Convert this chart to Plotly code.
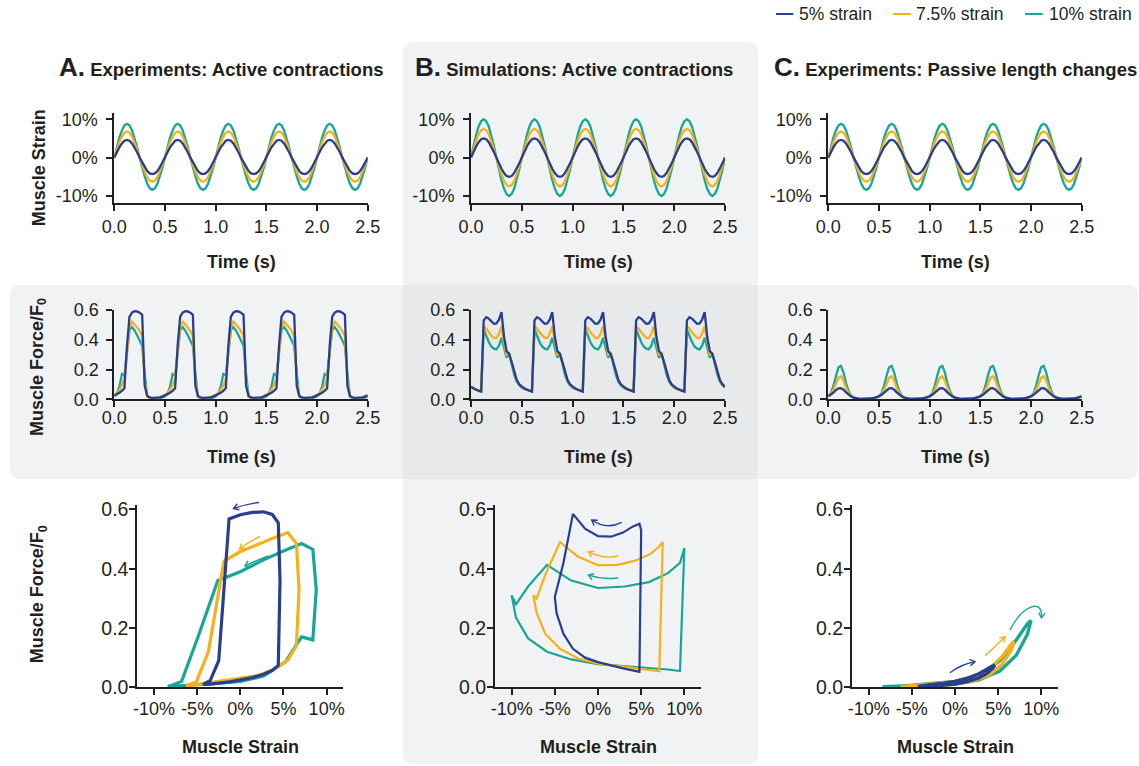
import math
import plotly.graph_objects as go

W, H = 1139, 766
INK = "#231f20"
BLUE, ORANGE, TEAL = "#283e91", "#f6b01a", "#17a697"
FONT = "Liberation Sans, Arial, Helvetica, sans-serif"

# ---------------------------------------------------------------- data ---
# Every record is a 2 Hz cycle sampled every 25 ms; five cycles are shown.
CYCLE_PERIOD = 0.5
N_CYCLES = 5
CYCLE_TAU = [0.000, 0.025, 0.050, 0.075, 0.100, 0.125, 0.150, 0.175, 0.200, 0.225,
             0.250, 0.275, 0.300, 0.325, 0.350, 0.375, 0.400, 0.425, 0.450, 0.475]

series_labels = ["5% strain", "7.5% strain", "10% strain"]
series_colors = [BLUE, ORANGE, TEAL]

# muscle strain (%) - experiments
exp_strain_5 = [0.0, 1.4, 2.7, 3.7, 4.4, 4.6, 4.4, 3.7, 2.7, 1.4,
                0.0, -1.3, -2.5, -3.5, -4.1, -4.3, -4.1, -3.5, -2.5, -1.3]
exp_strain_75 = [0.0, 2.1, 4.0, 5.5, 6.5, 6.8, 6.5, 5.5, 4.0, 2.1,
                 0.0, -1.9, -3.7, -5.1, -6.0, -6.3, -6.0, -5.1, -3.7, -1.9]
exp_strain_10 = [0.0, 2.7, 5.2, 7.1, 8.4, 8.8, 8.4, 7.1, 5.2, 2.7,
                 0.0, -2.6, -4.9, -6.8, -8.0, -8.4, -8.0, -6.8, -4.9, -2.6]

# muscle strain (%) - simulations
sim_strain_5 = [0.0, 1.5, 2.9, 4.0, 4.8, 5.0, 4.8, 4.0, 2.9, 1.5,
                0.0, -1.5, -2.9, -4.0, -4.8, -5.0, -4.8, -4.0, -2.9, -1.5]
sim_strain_75 = [0.0, 2.3, 4.4, 6.1, 7.1, 7.5, 7.1, 6.1, 4.4, 2.3,
                 0.0, -2.3, -4.4, -6.1, -7.1, -7.5, -7.1, -6.1, -4.4, -2.3]
sim_strain_10 = [0.0, 3.1, 5.9, 8.1, 9.5, 10.0, 9.5, 8.1, 5.9, 3.1,
                 0.0, -3.1, -5.9, -8.1, -9.5, -10.0, -9.5, -8.1, -5.9, -3.1]

# muscle force / F0 - experiments, active contractions
exp_active_force_5 = [0.025, 0.033, 0.044, 0.057, 0.074, 0.360, 0.555, 0.583, 0.592, 0.590,
                      0.582, 0.568, 0.090, 0.022, 0.013, 0.010, 0.010, 0.011, 0.013, 0.018]
exp_active_force_75 = [0.030, 0.040, 0.062, 0.092, 0.140, 0.330, 0.485, 0.522, 0.505, 0.483,
                       0.458, 0.425, 0.120, 0.018, 0.007, 0.004, 0.005, 0.009, 0.015, 0.022]
exp_active_force_10 = [0.020, 0.038, 0.085, 0.170, 0.160, 0.330, 0.465, 0.485, 0.462, 0.430,
                       0.390, 0.360, 0.170, 0.020, 0.006, 0.003, 0.003, 0.005, 0.008, 0.013]

# muscle force / F0 - simulations, active contractions
sim_active_force_5 = [0.085, 0.073, 0.064, 0.057, 0.052, 0.530, 0.552, 0.542, 0.522, 0.508,
                      0.510, 0.535, 0.585, 0.420, 0.325, 0.305, 0.250, 0.180, 0.130, 0.100]
sim_active_force_75 = [0.080, 0.072, 0.065, 0.059, 0.054, 0.490, 0.475, 0.450, 0.428, 0.413,
                       0.412, 0.440, 0.490, 0.380, 0.300, 0.310, 0.250, 0.180, 0.130, 0.097]
sim_active_force_10 = [0.078, 0.072, 0.066, 0.060, 0.055, 0.470, 0.420, 0.385, 0.355, 0.340,
                       0.335, 0.360, 0.413, 0.340, 0.280, 0.310, 0.235, 0.165, 0.120, 0.094]

# muscle force / F0 - experiments, passive length changes
exp_passive_force_5 = [0.020, 0.030, 0.045, 0.062, 0.073, 0.075, 0.065, 0.047, 0.031, 0.019,
                       0.011, 0.006, 0.004, 0.003, 0.003, 0.003, 0.004, 0.006, 0.009, 0.014]
exp_passive_force_75 = [0.020, 0.035, 0.063, 0.105, 0.145, 0.155, 0.125, 0.078, 0.042, 0.021,
                        0.011, 0.005, 0.003, 0.002, 0.002, 0.002, 0.003, 0.005, 0.008, 0.013]
exp_passive_force_10 = [0.020, 0.040, 0.090, 0.160, 0.215, 0.225, 0.180, 0.108, 0.055, 0.024,
                        0.011, 0.005, 0.002, 0.002, 0.002, 0.002, 0.002, 0.004, 0.007, 0.012]

# tick values and labels
time_ticks = [0.0, 0.5, 1.0, 1.5, 2.0, 2.5]
time_tick_labels = ["0.0", "0.5", "1.0", "1.5", "2.0", "2.5"]
strain_ticks_row = [-10, 0, 10]
strain_tick_labels_row = ["-10%", "0%", "10%"]
strain_ticks_loop = [-10, -5, 0, 5, 10]
strain_tick_labels_loop = ["-10%", "-5%", "0%", "5%", "10%"]
force_ticks = [0.0, 0.2, 0.4, 0.6]
force_tick_labels = ["0.0", "0.2", "0.4", "0.6"]

panel_titles = [("A.", "Experiments: Active contractions"),
                ("B.", "Simulations: Active contractions"),
                ("C.", "Experiments: Passive length changes")]


def repeat_cycles(cycle):
    """Five recorded cycles followed by the closing sample at t = 2.5 s."""
    return cycle * N_CYCLES + cycle[:1]


time_s = [round(c * CYCLE_PERIOD + tau, 3) for c in range(N_CYCLES) for tau in CYCLE_TAU]
time_s.append(N_CYCLES * CYCLE_PERIOD)

panels = [
    ([exp_strain_5, exp_strain_75, exp_strain_10],
     [exp_active_force_5, exp_active_force_75, exp_active_force_10]),
    ([sim_strain_5, sim_strain_75, sim_strain_10],
     [sim_active_force_5, sim_active_force_75, sim_active_force_10]),
    ([exp_strain_5, exp_strain_75, exp_strain_10],
     [exp_passive_force_5, exp_passive_force_75, exp_passive_force_10]),
]

# ------------------------------------------------------------- layout ---
def fx(x):
    return x / W


def fy(y):
    return 1 - y / H


col_x_time = [(114.3, 367.7), (471.0, 725.0), (828.3, 1081.7)]
col_x_loop = [(137.3, 343.3), (495.0, 701.0), (852.0, 1058.0)]
row_y = [(112.7, 203.3), (310.0, 399.3), (505.0, 687.3)]
loop_width = [3.2, 2.2, 3.4]


def tick_font(size):
    return dict(family=FONT, size=size, color=INK)


fig = go.Figure()
layout = {}

axis_common = dict(
    showline=True, linecolor=INK, linewidth=2, ticks="outside", ticklen=6,
    tickwidth=2, tickcolor=INK, showgrid=False, zeroline=False, mirror=False,
    tickfont=tick_font(18), tickmode="array", fixedrange=True, automargin=False,
)

for col, (strains, forces) in enumerate(panels):
    for row in range(3):
        k = row * 3 + col + 1
        xs = "" if k == 1 else str(k)
        xd = col_x_loop[col] if row == 2 else col_x_time[col]
        yd = row_y[row]
        xa = dict(axis_common, domain=[fx(xd[0]), fx(xd[1])], anchor="y" + xs)
        ya = dict(axis_common, domain=[fy(yd[1]), fy(yd[0])], anchor="x" + xs)
        if row == 0:
            xa.update(range=[0, 2.5], tickvals=time_ticks, ticktext=time_tick_labels,
                      ticklabelstandoff=0)
            ya.update(range=[-11.9, 11.7], tickvals=strain_ticks_row,
                      ticktext=strain_tick_labels_row, ticklabelstandoff=5)
        elif row == 1:
            xa.update(range=[0, 2.5], tickvals=time_ticks, ticktext=time_tick_labels,
                      ticklabelstandoff=-5)
            ya.update(range=[0, 0.6], tickvals=force_ticks, ticktext=force_tick_labels,
                      ticklabelstandoff=4)
        else:
            xa.update(range=[-11.93, 11.93], tickvals=strain_ticks_loop,
                      ticktext=strain_tick_labels_loop, ticklabelstandoff=-2)
            ya.update(range=[0, 0.615], tickvals=force_ticks, ticktext=force_tick_labels,
                      ticklabelstandoff=-3, tickfont=tick_font(19.5))
        layout["xaxis" + xs] = xa
        layout["yaxis" + xs] = ya

        for i in (2, 1, 0):
            strain = repeat_cycles(strains[i])
            force = repeat_cycles(forces[i])
            if row == 0:
                x, y, w = time_s, strain, 2.3
            elif row == 1:
                x, y, w = time_s, force, 2.3
            else:
                x, y, w = strain, force, loop_width[col]
            fig.add_trace(go.Scatter(
                x=x, y=y, xaxis="x" + xs, yaxis="y" + xs, mode="lines",
                name=series_labels[i], showlegend=False, hoverinfo="skip",
                line=dict(color=series_colors[i], width=w, shape="linear"),
            ))


def rounded_rect(x0, y0, x1, y1, r):
    p = lambda x, y: f"{fx(x):.5f},{fy(y):.5f}"
    return (f"M {p(x0 + r, y0)} L {p(x1 - r, y0)} Q {p(x1, y0)} {p(x1, y0 + r)} "
            f"L {p(x1, y1 - r)} Q {p(x1, y1)} {p(x1 - r, y1)} L {p(x0 + r, y1)} "
            f"Q {p(x0, y1)} {p(x0, y1 - r)} L {p(x0, y0 + r)} Q {p(x0, y0)} {p(x0 + r, y0)} Z")


PANEL_BG = "#f1f2f4"
shapes = [
    dict(type="path", path=rounded_rect(403, 42, 758, 764, 10), xref="paper", yref="paper",
         fillcolor=PANEL_BG, line=dict(width=0), layer="below"),
    dict(type="path", path=rounded_rect(10, 285, 1138, 479, 10), xref="paper", yref="paper",
         fillcolor=PANEL_BG, line=dict(width=0), layer="below"),
    dict(type="rect", x0=fx(403), x1=fx(758), y0=fy(479), y1=fy(285), xref="paper",
         yref="paper", fillcolor="#e8e9eb", line=dict(width=0), layer="below"),
]


def arrow_shapes(pts, color, head=6.0, spread=32):
    """Curved direction arrow with an open head, given in pixel positions."""
    p = lambda x, y: f"{fx(x):.5f},{fy(y):.5f}"
    if len(pts) == 3:
        body = f"M {p(*pts[0])} Q {p(*pts[1])} {p(*pts[2])}"
    else:
        body = f"M {p(*pts[0])} C {p(*pts[1])} {p(*pts[2])} {p(*pts[3])}"
    ex, ey = pts[-1]
    px_, py_ = pts[-2]
    ang = math.atan2(ey - py_, ex - px_)
    arms = []
    for s in (-1, 1):
        a = ang + math.pi + s * math.radians(spread)
        arms.append((ex + head * math.cos(a), ey + head * math.sin(a)))
    tip = f"M {p(*arms[0])} L {p(ex, ey)} L {p(*arms[1])}"
    style = dict(xref="paper", yref="paper", line=dict(color=color, width=1.4), layer="above")
    return [dict(type="path", path=body, **style), dict(type="path", path=tip, **style)]


arrows = [
    ([(259.0, 502.5), (246.0, 504.0), (233.5, 508.5)], BLUE),
    ([(260.0, 536.5), (250.0, 541.0), (239.5, 549.0)], ORANGE),
    ([(268.5, 556.0), (257.0, 560.0), (245.0, 566.0)], TEAL),
    ([(621.7, 522.3), (606.7, 530.2), (591.7, 520.0)], BLUE),
    ([(618.3, 556.0), (603.3, 559.5), (588.3, 551.7)], ORANGE),
    ([(618.3, 577.7), (603.3, 580.3), (588.3, 575.0)], TEAL),
    ([(950.0, 672.7), (961.0, 664.2), (975.0, 661.7)], BLUE),
    ([(985.0, 655.7), (995.0, 647.0), (1005.0, 636.7)], ORANGE),
    ([(1010.0, 630.0), (1022.0, 606.0), (1043.0, 597.0), (1041.5, 618.0)], TEAL),
]
for pts, c in arrows:
    shapes.extend(arrow_shapes(pts, c))

# legend drawn as short line keys
legend_keys = [(776.0, 793.3, 797.3), (892.7, 910.7, 914.0), (1025.0, 1042.7, 1046.7)]
annotations = []
for (x0, x1, xt), label, c in zip(legend_keys, series_labels, series_colors):
    shapes.append(dict(type="line", xref="paper", yref="paper", x0=fx(x0), x1=fx(x1),
                       y0=fy(14), y1=fy(14), line=dict(color=c, width=2)))
    annotations.append(dict(text=label, x=fx(xt), y=fy(14), xref="paper", yref="paper",
                            xanchor="left", yanchor="middle", showarrow=False,
                            font=dict(family=FONT, size=17.5, color=INK)))

# panel titles
for (letter, title), x0 in zip(panel_titles, [56.7, 413.0, 772.0]):
    annotations.append(dict(
        text=f"<b><span style='font-size:26px'>{letter}</span> {title}</b>",
        x=fx(x0), y=fy(67.5), xref="paper", yref="paper", xanchor="left",
        yanchor="middle", showarrow=False, font=dict(family=FONT, size=18.5, color=INK)))


def axis_title(text, x, y, angle=0):
    annotations.append(dict(text=f"<b>{text}</b>", x=fx(x), y=fy(y), xref="paper",
                            yref="paper", xanchor="center", yanchor="middle",
                            textangle=angle, showarrow=False,
                            font=dict(family=FONT, size=18, color=INK)))


for cx in (241.0, 598.0, 955.0):
    axis_title("Time (s)", cx, 261.5)
    axis_title("Time (s)", cx, 457.3)
for cx in (240.3, 598.0, 955.0):
    axis_title("Muscle Strain", cx, 746.7)
axis_title("Muscle Strain", 39.3, 168.0, -90)
axis_title("Muscle Force/F<sub>0</sub>", 38.3, 366.7, -90)
axis_title("Muscle Force/F<sub>0</sub>", 38.3, 594.0, -90)

fig.update_layout(
    template="none",
    width=W, height=H, margin=dict(l=0, r=0, t=0, b=0, pad=0), autosize=False,
    paper_bgcolor="white", plot_bgcolor="rgba(0,0,0,0)",
    showlegend=False, shapes=shapes, annotations=annotations,
    font=dict(family=FONT, color=INK), **layout,
)

fig.write_html("out.html", config={"displayModeBar": False})
